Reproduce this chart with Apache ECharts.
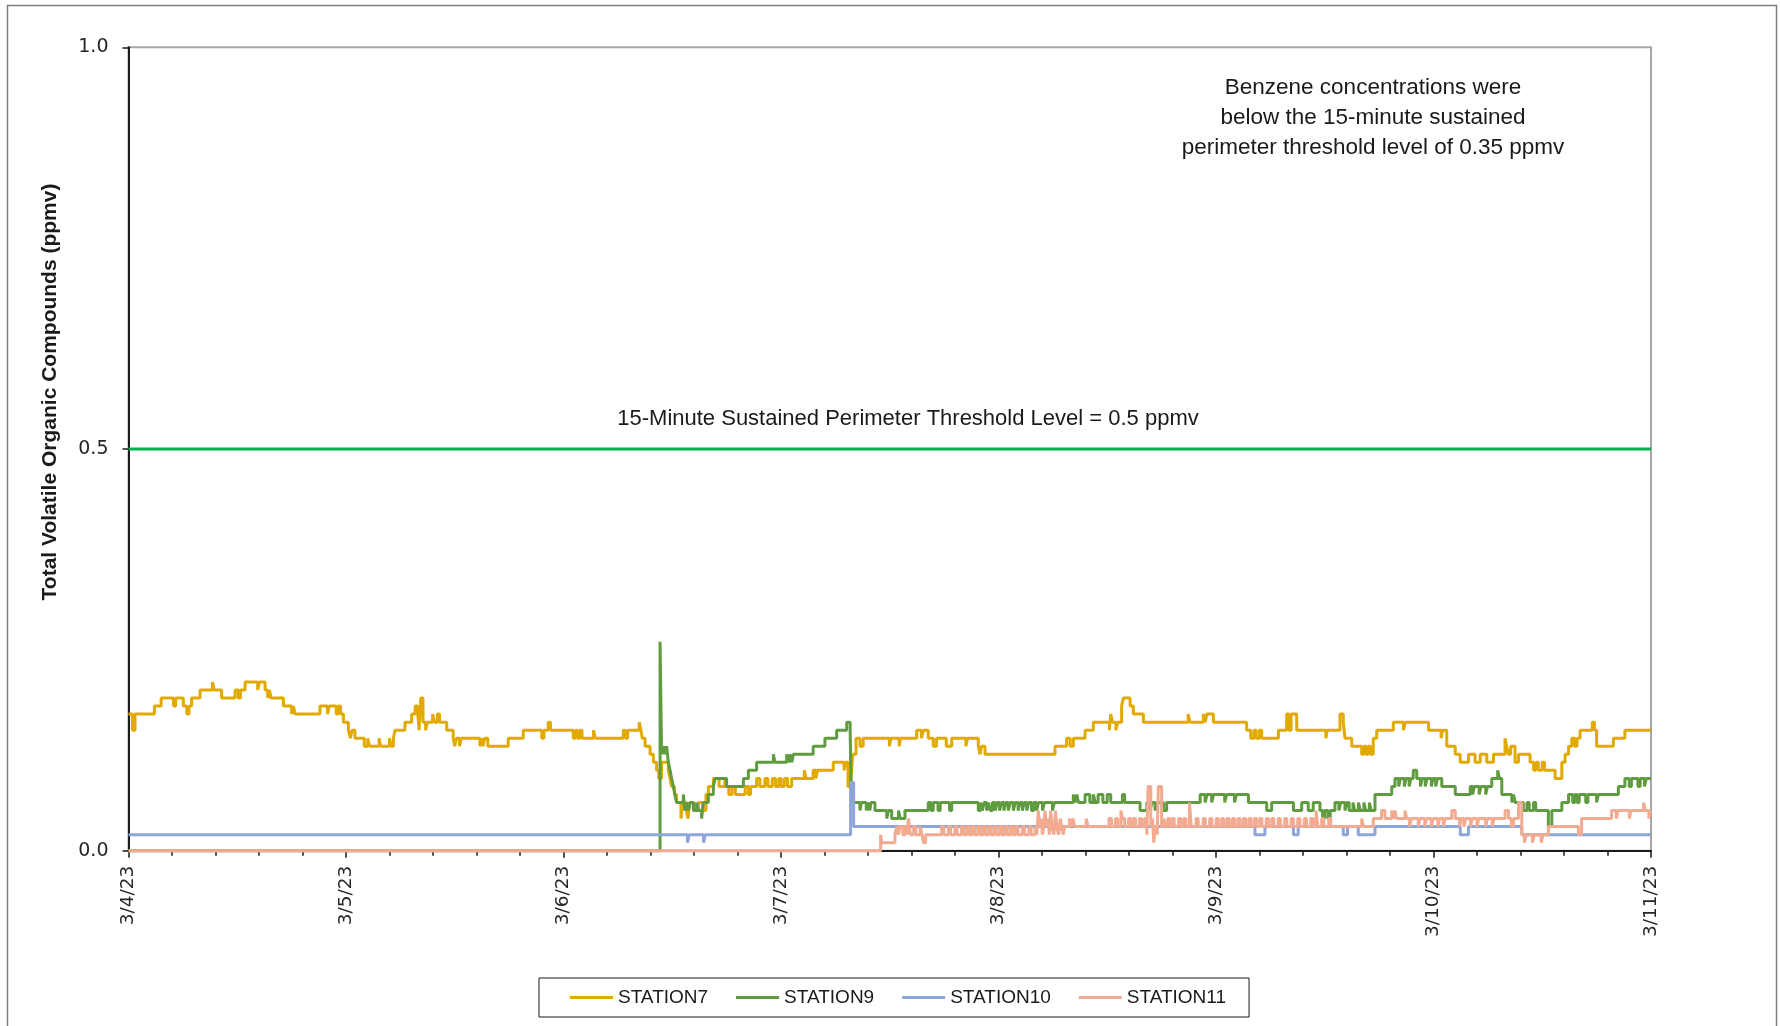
<!DOCTYPE html>
<html><head><meta charset="utf-8">
<script src="https://cdn.jsdelivr.net/npm/echarts@6/dist/echarts.min.js"></script>
<style>html,body{margin:0;padding:0;background:#fff}#chart{width:1780px;height:1026px}</style>
</head><body><div id="chart"></div>
<script>
// x = days since 3/4/23 00:00
const dayLabels = ['3/4/23','3/5/23','3/6/23','3/7/23','3/8/23','3/9/23','3/10/23','3/11/23'];
const seriesNames = ['STATION7','STATION9','STATION10','STATION11'];
const thresholdValue = 0.5;
const thresholdLabel = '15-Minute Sustained Perimeter Threshold Level = 0.5 ppmv';
const noteText = 'Benzene concentrations were\nbelow the 15-minute sustained\nperimeter threshold level of 0.35 ppmv';
const yTitle = 'Total Volatile Organic Compounds (ppmv)';

const station7 = [
[0,0.17],[0.018,0.15],[0.03,0.17],[0.119,0.18],[0.150,0.19],[0.207,0.18],[0.217,0.19],[0.252,0.18],[0.268,0.17],[0.278,0.18],[0.290,0.19],[0.329,0.20],[0.386,0.21],[0.394,0.20],[0.428,0.19],[0.490,0.20],[0.505,0.19],[0.515,0.20],[0.536,0.21],[0.594,0.20],[0.602,0.21],[0.628,0.20],[0.640,0.19],[0.648,0.20],[0.655,0.19],[0.712,0.18],[0.750,0.17],[0.758,0.18],[0.766,0.17],[0.880,0.18],[0.915,0.17],[0.923,0.18],[0.955,0.17],[0.965,0.18],[0.975,0.17],[0.988,0.16],[1.011,0.15],[1.020,0.14],[1.028,0.15],[1.041,0.14],[1.084,0.13],[1.100,0.14],[1.108,0.13],[1.152,0.14],[1.160,0.13],[1.200,0.14],[1.208,0.13],[1.218,0.14],[1.225,0.15],[1.271,0.16],[1.302,0.17],[1.318,0.18],[1.330,0.17],[1.336,0.15],[1.344,0.19],[1.354,0.16],[1.366,0.15],[1.374,0.16],
[1.386,0.16],[1.398,0.17],[1.406,0.16],[1.420,0.17],[1.430,0.16],[1.463,0.15],[1.493,0.14],[1.500,0.13],[1.508,0.14],[1.522,0.13],[1.530,0.14],[1.616,0.13],[1.624,0.14],[1.630,0.13],[1.638,0.14],[1.652,0.13],[1.746,0.14],[1.815,0.15],[1.900,0.14],[1.910,0.15],[1.930,0.16],[1.940,0.15],[2.045,0.14],[2.055,0.15],[2.065,0.14],[2.075,0.15],[2.085,0.14],[2.138,0.15],[2.146,0.14],[2.275,0.15],[2.285,0.14],[2.295,0.15],[2.348,0.16],[2.356,0.15],[2.362,0.14],[2.375,0.13],[2.398,0.12],[2.413,0.11],[2.428,0.10],[2.438,0.09],[2.451,0.11],[2.482,0.10],[2.490,0.09],[2.497,0.08],[2.510,0.07],[2.520,0.06],[2.540,0.04],[2.548,0.06],[2.565,0.05],[2.572,0.04],[2.580,0.06],[2.600,0.05],[2.620,0.06],[2.640,0.05],[2.655,0.07],[2.666,0.08],[2.689,0.09],[2.715,0.08],[2.742,0.09],[2.750,0.08],[2.760,0.07],[2.775,0.08],[2.790,0.07],
[2.835,0.08],[2.850,0.07],[2.860,0.08],[2.888,0.09],[2.903,0.08],[2.926,0.09],[2.940,0.08],[2.960,0.09],[2.975,0.08],[2.990,0.09],[3.000,0.08],[3.015,0.09],[3.030,0.08],[3.049,0.09],[3.107,0.10],[3.115,0.09],[3.148,0.10],[3.160,0.09],[3.168,0.10],[3.240,0.11],[3.290,0.10],[3.298,0.11],[3.308,0.08],[3.322,0.09],[3.330,0.12],[3.345,0.14],[3.363,0.13],[3.378,0.14],[3.498,0.13],[3.505,0.14],[3.543,0.13],[3.550,0.14],[3.624,0.15],[3.646,0.14],[3.655,0.15],[3.677,0.14],[3.700,0.13],[3.715,0.14],[3.760,0.13],[3.785,0.14],[3.850,0.13],[3.858,0.14],[3.907,0.13],[3.915,0.12],[3.922,0.13],[3.938,0.12],
[4.260,0.13],[4.313,0.14],[4.329,0.13],[4.344,0.14],[4.398,0.15],[4.436,0.16],[4.510,0.15],[4.516,0.17],[4.524,0.16],[4.540,0.15],[4.548,0.16],[4.566,0.18],[4.574,0.19],[4.605,0.18],[4.620,0.17],[4.666,0.16],[4.872,0.17],[4.880,0.16],[4.942,0.17],[4.950,0.16],[4.958,0.17],[4.988,0.16],[5.141,0.15],[5.160,0.14],[5.175,0.15],[5.185,0.14],[5.200,0.15],[5.210,0.14],[5.287,0.15],[5.325,0.17],[5.335,0.15],[5.345,0.17],[5.371,0.15],[5.505,0.14],[5.512,0.15],[5.570,0.17],[5.585,0.16],[5.593,0.14],
[5.624,0.13],[5.670,0.12],[5.680,0.13],[5.690,0.12],[5.700,0.13],[5.710,0.12],[5.723,0.14],[5.739,0.15],[5.815,0.16],[5.862,0.15],[5.870,0.16],[5.977,0.15],[6.035,0.14],[6.042,0.15],[6.061,0.13],[6.100,0.12],[6.123,0.11],[6.161,0.12],[6.191,0.11],[6.215,0.12],[6.245,0.11],[6.276,0.12],[6.329,0.14],[6.336,0.13],[6.345,0.12],[6.355,0.13],[6.375,0.11],[6.391,0.12],[6.444,0.11],[6.460,0.10],[6.470,0.11],[6.482,0.10],[6.500,0.11],[6.510,0.10],[6.559,0.09],[6.590,0.11],[6.605,0.12],[6.621,0.13],[6.636,0.14],[6.650,0.13],[6.660,0.14],[6.674,0.15],[6.730,0.16],[6.740,0.15],[6.750,0.13],[6.827,0.14],[6.880,0.15],[7.0,0.15]
];

const station9 = [
[0,0],[2.444,0.26],[2.451,0.12],[2.459,0.13],[2.466,0.12],[2.474,0.13],[2.482,0.11],[2.490,0.10],[2.497,0.09],[2.505,0.08],[2.512,0.07],[2.520,0.06],[2.551,0.07],[2.558,0.05],[2.566,0.06],[2.574,0.05],[2.582,0.06],[2.597,0.05],[2.612,0.06],[2.620,0.05],[2.635,0.04],[2.643,0.06],[2.666,0.07],[2.689,0.08],[2.697,0.09],[2.750,0.08],[2.827,0.09],[2.850,0.10],[2.888,0.11],[2.965,0.12],[2.972,0.11],[3.026,0.12],[3.034,0.11],[3.042,0.12],[3.050,0.11],[3.057,0.12],[3.148,0.13],[3.202,0.14],[3.256,0.15],[3.302,0.16],[3.318,0.15],[3.322,0.08],[3.330,0.06],[3.363,0.05],[3.370,0.06],[3.392,0.05],[3.400,0.06],[3.408,0.05],[3.414,0.06],[3.432,0.05],[3.486,0.04],[3.494,0.05],[3.509,0.04],[3.540,0.05],[3.548,0.04],[3.570,0.05],[3.677,0.06],[3.690,0.05],[3.700,0.06],[3.722,0.05],[3.732,0.06],[3.775,0.05],[3.785,0.06],
[3.907,0.05],[3.917,0.06],[3.925,0.05],[3.934,0.06],[3.945,0.05],[3.954,0.06],[3.962,0.05],[3.972,0.06],[3.985,0.05],[3.994,0.06],[4.005,0.05],[4.014,0.06],[4.025,0.05],[4.034,0.06],[4.045,0.05],[4.054,0.06],[4.068,0.05],[4.077,0.06],[4.090,0.05],[4.099,0.06],[4.110,0.05],[4.119,0.06],[4.130,0.05],[4.139,0.06],[4.152,0.05],[4.162,0.06],[4.175,0.05],[4.184,0.06],[4.202,0.05],[4.211,0.06],[4.248,0.05],[4.257,0.06],
[4.344,0.07],[4.352,0.06],[4.360,0.07],[4.368,0.06],[4.398,0.07],[4.420,0.06],[4.436,0.07],[4.445,0.06],[4.458,0.07],[4.480,0.06],[4.500,0.07],[4.516,0.06],[4.570,0.07],[4.580,0.06],[4.651,0.05],[4.682,0.06],[4.697,0.05],[4.706,0.06],[4.720,0.05],[4.729,0.06],[4.758,0.05],[4.773,0.06],[4.927,0.07],[4.950,0.06],[4.959,0.07],[4.980,0.06],[4.989,0.07],[5.040,0.06],[5.049,0.07],[5.085,0.06],[5.094,0.07],[5.149,0.06],[5.233,0.05],[5.256,0.06],[5.356,0.05],[5.394,0.06],[5.424,0.05],[5.447,0.06],[5.478,0.05],[5.490,0.04],[5.500,0.05],[5.515,0.04],[5.525,0.05],[5.547,0.06],[5.565,0.05],[5.573,0.06],[5.593,0.05],[5.602,0.06],[5.612,0.05],[5.630,0.06],[5.638,0.05],[5.655,0.06],[5.663,0.05],[5.680,0.06],[5.688,0.05],[5.705,0.06],[5.713,0.05],
[5.731,0.07],[5.808,0.08],[5.823,0.09],[5.840,0.08],[5.848,0.09],[5.866,0.08],[5.874,0.09],[5.888,0.08],[5.896,0.09],[5.907,0.10],[5.923,0.09],[5.940,0.08],[5.948,0.09],[5.962,0.08],[5.970,0.09],[5.990,0.08],[5.998,0.09],[6.010,0.08],[6.018,0.09],[6.038,0.08],[6.100,0.07],[6.169,0.08],[6.180,0.07],[6.188,0.08],[6.210,0.07],[6.218,0.08],[6.240,0.07],[6.248,0.08],[6.268,0.09],[6.295,0.10],[6.303,0.09],[6.314,0.07],[6.360,0.06],[6.368,0.07],[6.375,0.06],[6.413,0.05],[6.430,0.06],[6.440,0.05],[6.460,0.06],[6.470,0.05],[6.528,0.03],[6.544,0.05],[6.590,0.06],[6.621,0.07],[6.640,0.06],[6.650,0.07],[6.660,0.06],[6.670,0.07],[6.700,0.06],[6.710,0.07],[6.750,0.06],[6.758,0.07],[6.850,0.08],[6.880,0.09],[6.900,0.08],[6.910,0.09],[6.940,0.08],[6.950,0.09],[6.970,0.08],[6.978,0.09],[7.0,0.09]
];

const station10 = [
[0,0.02],[2.570,0.01],[2.578,0.02],[2.644,0.01],[2.652,0.02],[3.320,0.085],[3.334,0.03],[5.179,0.02],[5.225,0.03],[5.356,0.02],[5.378,0.03],[5.585,0.02],[5.605,0.03],[5.654,0.02],[5.731,0.03],[6.123,0.02],[6.161,0.03],[6.406,0.02],[7.0,0.02]
];

const station11 = [
[0,0],[3.458,0.02],[3.463,0.01],[3.524,0.02],[3.532,0.03],[3.540,0.02],[3.547,0.03],[3.560,0.02],[3.570,0.03],[3.580,0.02],[3.586,0.04],[3.595,0.02],[3.610,0.03],[3.620,0.02],[3.640,0.03],[3.648,0.02],[3.655,0.01],[3.665,0.02],[3.739,0.03],[3.749,0.02],[3.770,0.03],[3.780,0.02],[3.800,0.03],[3.810,0.02],[3.830,0.03],[3.840,0.02],[3.855,0.03],[3.866,0.02],[3.880,0.03],[3.890,0.02],[3.905,0.03],[3.916,0.02],[3.930,0.03],[3.940,0.02],[3.955,0.03],[3.965,0.02],[3.980,0.03],[3.990,0.02],[4.005,0.03],[4.016,0.02],[4.030,0.03],[4.040,0.02],[4.055,0.03],[4.066,0.02],[4.080,0.03],[4.090,0.02],[4.110,0.03],[4.120,0.02],[4.140,0.03],[4.150,0.02],[4.168,0.03],[4.176,0.02],[4.183,0.05],[4.190,0.03],
[4.196,0.04],[4.202,0.02],[4.208,0.03],[4.214,0.05],[4.220,0.03],[4.228,0.04],[4.234,0.02],[4.240,0.05],[4.246,0.03],[4.255,0.02],[4.262,0.05],[4.268,0.03],[4.276,0.02],[4.284,0.04],[4.290,0.03],[4.298,0.02],[4.304,0.03],[4.326,0.04],[4.334,0.03],[4.342,0.04],[4.350,0.03],[4.403,0.04],[4.412,0.03],[4.508,0.04],[4.520,0.03],[4.538,0.04],[4.548,0.03],[4.563,0.05],[4.570,0.04],[4.580,0.03],[4.598,0.04],[4.608,0.03],[4.620,0.04],[4.630,0.03],[4.648,0.04],[4.658,0.03],[4.672,0.04],[4.682,0.02],[4.688,0.08],[4.700,0.03],[4.708,0.04],[4.714,0.01],[4.720,0.03],[4.730,0.02],[4.735,0.08],[4.750,0.03],[4.760,0.04],[4.768,0.03],[4.778,0.04],[4.788,0.03],[4.798,0.04],[4.808,0.03],[4.828,0.04],[4.838,0.03],[4.852,0.04],[4.862,0.03],[4.878,0.06],[4.886,0.03],[4.908,0.04],[4.918,0.03],[4.941,0.04],[4.951,0.03],[4.971,0.04],[4.981,0.03],[5.001,0.04],[5.011,0.03],[5.026,0.04],[5.036,0.03],[5.051,0.04],[5.061,0.03],[5.076,0.04],[5.086,0.03],[5.101,0.04],[5.111,0.03],[5.126,0.04],[5.136,0.03],[5.151,0.04],[5.161,0.03],[5.176,0.04],[5.186,0.03],[5.201,0.04],[5.211,0.03],[5.231,0.04],[5.241,0.03],[5.256,0.04],[5.266,0.03],[5.286,0.04],[5.296,0.03],[5.316,0.04],[5.326,0.03],[5.346,0.04],[5.356,0.03],[5.376,0.04],[5.386,0.03],[5.406,0.04],[5.416,0.03],[5.436,0.04],[5.446,0.03],[5.460,0.05],[5.468,0.03],[5.486,0.04],[5.496,0.03],[5.518,0.04],[5.528,0.03],
[5.670,0.04],[5.678,0.03],[5.723,0.04],[5.761,0.05],[5.777,0.04],[5.808,0.05],[5.815,0.04],[5.823,0.05],[5.830,0.04],[5.869,0.05],[5.877,0.04],[5.890,0.03],[5.898,0.04],[5.930,0.03],[5.938,0.04],[5.960,0.03],[5.968,0.04],[5.990,0.03],[5.998,0.04],[6.020,0.03],[6.028,0.04],[6.045,0.03],[6.053,0.04],[6.084,0.05],[6.100,0.04],[6.120,0.03],[6.128,0.04],[6.140,0.03],[6.148,0.04],[6.170,0.03],[6.178,0.04],[6.200,0.03],[6.208,0.04],[6.240,0.03],[6.248,0.04],[6.270,0.03],[6.278,0.04],[6.329,0.05],[6.345,0.04],[6.358,0.03],[6.368,0.04],[6.391,0.06],[6.406,0.02],[6.418,0.01],[6.426,0.02],[6.455,0.01],[6.463,0.02],[6.495,0.01],[6.503,0.02],[6.528,0.03],[6.666,0.02],[6.681,0.04],[6.819,0.05],[6.840,0.04],[6.848,0.05],[6.900,0.04],[6.908,0.05],[6.966,0.06],[6.974,0.05],[6.990,0.04],[6.997,0.05],[7.0,0.05]
];

const colors = ['#E2AA00','#5F9B3F','#8EA5DA','#F2AA91'];
const dataSets = [station7, station9, station10, station11];

const chart = echarts.init(document.getElementById('chart'), null, {renderer:'canvas'});
const axisColor = '#1a1a1a';
const series = dataSets.map((d, i) => ({
  name: seriesNames[i], type:'line', step:'end', data:d, showSymbol:false, symbol:'none',
  clip:false, lineStyle:{color:colors[i], width:3}, itemStyle:{color:colors[i]}, z: 3 + i
}));
series.push({
  name:'Threshold', type:'line', data:[[0,thresholdValue],[dayLabels.length-1,thresholdValue]],
  showSymbol:false, symbol:'none', lineStyle:{color:'#00B050', width:3}, z:3
});

chart.setOption({
  animation:false,
  backgroundColor:'#ffffff',
  grid:{left:128.5, right:129, top:47.3, bottom:175.3, show:true, borderColor:'#a6a6a6', borderWidth:2, backgroundColor:'transparent'},
  xAxis:{type:'value', min:0, max:dayLabels.length-1, interval:1,
    axisLine:{show:true, lineStyle:{color:axisColor, width:2}},
    axisTick:{show:true, length:7, lineStyle:{color:axisColor, width:1.5}},
    minorTick:{show:true, splitNumber:5, length:5, lineStyle:{color:axisColor, width:1.5}},
    axisLabel:{rotate:90, margin:15, fontFamily:'DejaVu Sans', fontSize:18.5, color:'#262626',
      formatter: v => dayLabels[Math.round(v)]},
    splitLine:{show:false}, minorSplitLine:{show:false}},
  yAxis:{type:'value', min:0, max:1, interval:0.5,
    axisLine:{show:true, lineStyle:{color:axisColor, width:2}},
    axisTick:{show:true, length:6, lineStyle:{color:axisColor, width:1.5}},
    axisLabel:{margin:20, fontFamily:'DejaVu Sans', fontSize:19, color:'#262626', formatter: v => v.toFixed(1)},
    splitLine:{show:false}},
  legend:{data:seriesNames, left:539, top:978, orient:'horizontal', icon:'rect',
    itemWidth:43, itemHeight:3, itemGap:28, padding:[10,23,10,31],
    borderColor:'#1a1a1a', borderWidth:1,
    textStyle:{fontFamily:'Liberation Sans', fontSize:19, color:'#1a1a1a'}},
  series: series,
  graphic:[
    {type:'rect', silent:true, z:-10, shape:{x:7.5, y:5.5, width:1769, height:1040},
      style:{fill:'none', stroke:'#7f7f7f', lineWidth:1.5}},
    {type:'text', silent:true, x:908, y:419,
      style:{text:thresholdLabel, fontFamily:'Liberation Sans', fontSize:22, fill:'#1a1a1a', align:'center', verticalAlign:'middle'}},
    {type:'text', silent:true, x:1373, y:118,
      style:{text:noteText, fontFamily:'Liberation Sans', fontSize:22.5, lineHeight:30, fill:'#1a1a1a', align:'center', verticalAlign:'middle'}},
    {type:'text', silent:true, x:50, y:392, rotation:Math.PI/2,
      style:{text:yTitle, fontFamily:'Liberation Sans', fontWeight:'bold', fontSize:21, fill:'#1a1a1a', align:'center', verticalAlign:'middle'}}
  ]
});
</script></body></html>
